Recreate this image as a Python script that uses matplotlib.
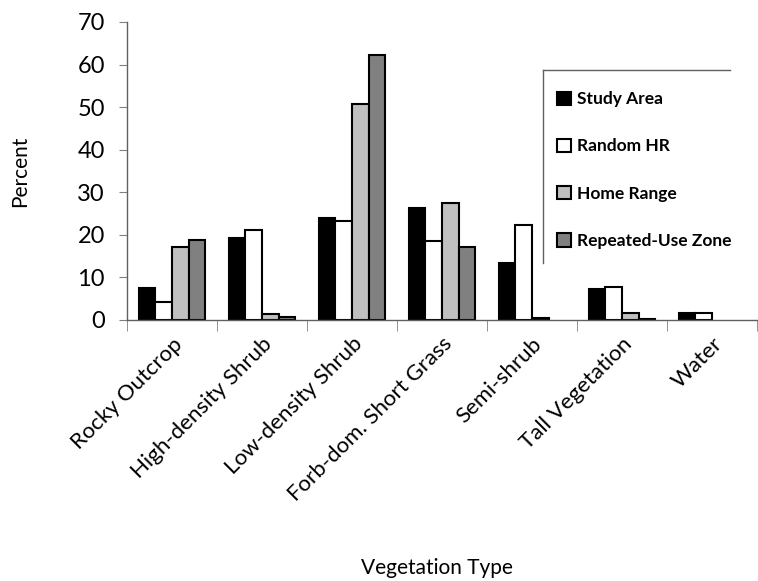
import numpy as np
import matplotlib
matplotlib.use('Agg')
import matplotlib.pyplot as plt
from matplotlib.lines import Line2D

plt.rcParams['font.family'] = ['Lato', 'DejaVu Sans']

categories = ['Rocky Outcrop', 'High-density Shrub', 'Low-density Shrub',
              'Forb-dom. Short Grass', 'Semi-shrub', 'Tall Vegetation', 'Water']
series_names = ['Study Area', 'Random HR', 'Home Range', 'Repeated-Use Zone']
study_area = [7.6, 19.3, 24.0, 26.2, 13.5, 7.3, 1.6]
random_hr = [4.3, 21.1, 23.3, 18.6, 22.4, 7.7, 1.6]
home_range = [17.1, 1.4, 50.7, 27.6, 0.5, 1.7, 0.0]
repeated_use = [18.9, 0.8, 62.3, 17.1, 0.0, 0.3, 0.0]
colors = ['#000000', '#ffffff', '#c0c0c0', '#808080']

fig = plt.figure(figsize=(7.58, 5.81), dpi=100)
ax = fig.add_axes([127/758, 1 - 320/581, 630/758, 298/581])

x = np.arange(len(categories))
w = 0.185
all_series = [study_area, random_hr, home_range, repeated_use]
for i, (vals, name, c) in enumerate(zip(all_series, series_names, colors)):
    lw = [1.5 if v > 0 else 0 for v in vals]
    ax.bar(x + (i - 1.5) * w, vals, width=w, color=c, edgecolor='black',
           linewidth=lw, label=name)

ax.set_xlim(-0.5, len(categories) - 0.5)
ax.set_ylim(0, 70)
ax.set_yticks(range(0, 71, 10))
ax.tick_params(axis='y', labelsize=17, direction='out', length=6,
               color='#808080', pad=10)
ax.set_xticks(x)
ax.set_xticklabels(categories, rotation=45, ha='right', rotation_mode='anchor',
                   fontsize=16)
ax.tick_params(axis='x', length=0, pad=10)
ax.set_xticks(np.arange(-0.5, len(categories), 1), minor=True)
ax.tick_params(axis='x', which='minor', length=8, color='#808080')

for s in ['top', 'right']:
    ax.spines[s].set_visible(False)
for s in ['left', 'bottom']:
    ax.spines[s].set_color('#606060')
    ax.spines[s].set_linewidth(1)

ax.set_ylabel('Percent', fontsize=15, labelpad=34)
fig.text(437/758, 1 - 568/581, 'Vegetation Type', fontsize=15, ha='center', va='center')

leg = ax.legend(loc='upper left', bbox_to_anchor=((552 - 127) / 630, 1 - (86 - 22) / 298),
                frameon=False, prop={'weight': 'bold', 'size': 12.5}, labelspacing=1.8,
                handlelength=0.8, handleheight=0.8, handletextpad=0.35,
                borderpad=0.3, borderaxespad=0)

# legend box outline (top and left edges as in the source)
fig.add_artist(Line2D([543/758, 730/758], [1 - 70/581, 1 - 70/581],
                      color='#606060', lw=1))
fig.add_artist(Line2D([543/758, 543/758], [1 - 70/581, 1 - 263/581],
                      color='#606060', lw=1))

fig.savefig('out.png', dpi=100)
